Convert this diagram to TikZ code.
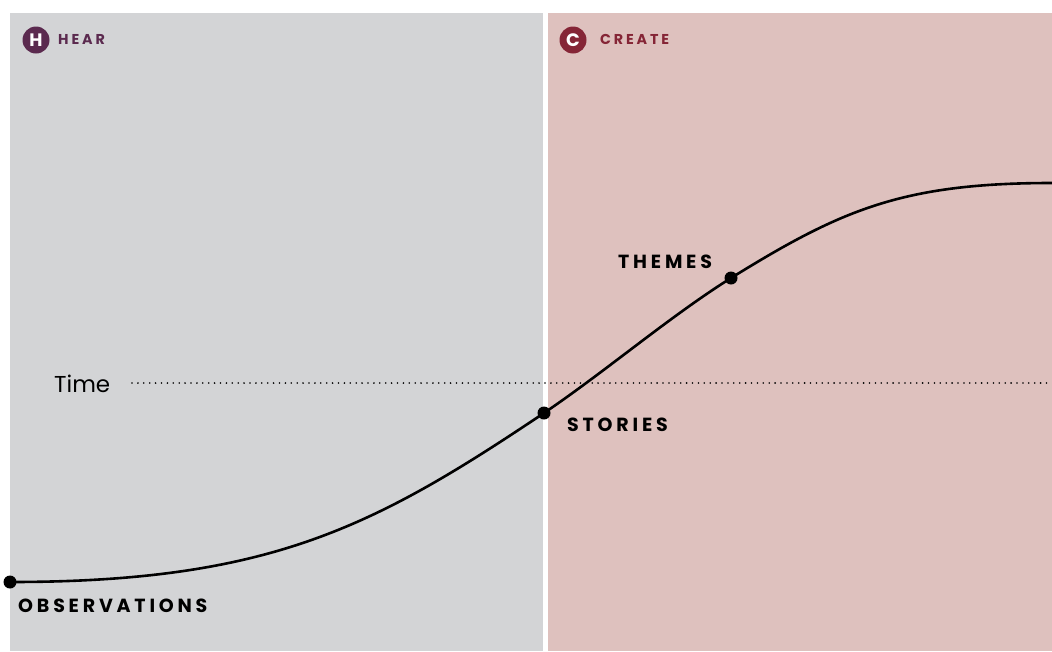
\documentclass[tikz,border=0pt]{standalone}
\usepackage{fontspec}
\setmainfont{Poppins}
\newfontfamily\capsfont[LetterSpace=20]{Poppins}
\usetikzlibrary{positioning}

\definecolor{hearbg}{HTML}{D3D4D6}
\definecolor{createbg}{HTML}{DEC1BE}
\definecolor{hearcol}{HTML}{5B2A4F}
\definecolor{createcol}{HTML}{852536}

\begin{document}
\begin{tikzpicture}[x=1pt, y=-1pt]%
            \tikzstyle{stage}=[inner sep=0pt, anchor=base west, font=\capsfont\bfseries\fontsize{14.3}{14.3}\selectfont];%
            \tikzstyle{badge}=[circle, minimum size=27pt, inner sep=0pt, text=white, font=\bfseries\fontsize{18}{18}\selectfont];%
            \tikzstyle{point}=[circle, fill=black, minimum size=13pt, inner sep=0pt];%
            \tikzstyle{milestone}=[inner sep=0pt, anchor=base west, font=\capsfont\bfseries\fontsize{19}{19}\selectfont];%
            \useasboundingbox (0, 0) rectangle (1052, 651);
            \fill[hearbg] (10, 13) rectangle (543, 651);
            \fill[createbg] (548, 13) rectangle (1052, 651);

            % stage headers
            \node[badge, fill=hearcol] (hbadge) at (36, 40) {H};
            \node[stage, text=hearcol] (hear) at (58, 44.5) {HEAR};
            \node[badge, fill=createcol] (cbadge) at (573, 40) {C};
            \node[stage, text=createcol] (create) at (600, 44.5) {CREATE};

            % time axis
            \node[inner sep=0pt, anchor=base west, font=\fontsize{23}{23}\selectfont] (time) at (54, 392) {Time};
            \coordinate (tstart) at (132, 383);
            \coordinate (tend) at (1052, 383);
            \draw[line width=1.8pt, line cap=round, dash pattern=on 0pt off 5.9pt] (tstart) -- (tend);

            % curve
            \node[point] (obs) at (10, 582) {};
            \node[point] (stories) at (544, 413) {};
            \node[point] (themes) at (731, 278) {};
            \coordinate (cend) at (1052, 183);
            \draw[line width=2.6pt] (obs.center) .. controls (270, 582) and (374, 527) .. (stories.center)
                .. controls (606, 371) and (669, 317) .. (themes.center)
                .. controls (841, 210) and (902, 183) .. (cend);

            \node[milestone] (obslabel) at (18, 612) {OBSERVATIONS};
            \node[milestone] (storieslabel) at (567, 431) {STORIES};
            \node[milestone] (themeslabel) at (618, 268) {THEMES};
        \end{tikzpicture}
\end{document}
